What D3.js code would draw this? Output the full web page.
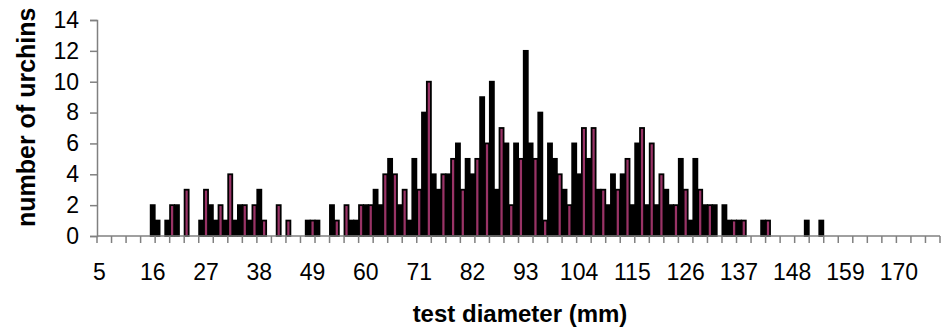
<!DOCTYPE html>
<html>
<head>
<meta charset="utf-8">
<script src="https://cdn.jsdelivr.net/npm/d3@7/dist/d3.min.js"></script>
<style>
  body { margin: 0; background: #fff; }
  svg { display: block; font-family: "Liberation Sans", Arial, sans-serif; }
</style>
</head>
<body>
<div id="chart"></div>
<script>
// test diameter classes (mm)
const diameters = [
  5, 6, 7, 8, 9, 10, 11, 12, 13, 14,
  15, 16, 17, 18, 19, 20, 21, 22, 23, 24,
  25, 26, 27, 28, 29, 30, 31, 32, 33, 34,
  35, 36, 37, 38, 39, 40, 41, 42, 43, 44,
  45, 46, 47, 48, 49, 50, 51, 52, 53, 54,
  55, 56, 57, 58, 59, 60, 61, 62, 63, 64,
  65, 66, 67, 68, 69, 70, 71, 72, 73, 74,
  75, 76, 77, 78, 79, 80, 81, 82, 83, 84,
  85, 86, 87, 88, 89, 90, 91, 92, 93, 94,
  95, 96, 97, 98, 99, 100, 101, 102, 103, 104,
  105, 106, 107, 108, 109, 110, 111, 112, 113, 114,
  115, 116, 117, 118, 119, 120, 121, 122, 123, 124,
  125, 126, 127, 128, 129, 130, 131, 132, 133, 134,
  135, 136, 137, 138, 139, 140, 141, 142, 143, 144,
  145, 146, 147, 148, 149, 150, 151, 152, 153, 154,
  155, 156, 157, 158, 159, 160, 161, 162, 163, 164,
  165, 166, 167, 168, 169, 170, 171, 172, 173, 174,
  175, 176, 177, 178
];

// black series
const blackCounts = [
  0, 0, 0, 0, 0, 0, 0, 0, 0, 0,
  0, 2, 1, 0, 1, 0, 2, 0, 0, 0,
  0, 1, 0, 2, 1, 0, 1, 0, 1, 2,
  0, 1, 0, 3, 0, 0, 0, 0, 0, 0,
  0, 0, 0, 1, 0, 1, 0, 0, 2, 0,
  0, 0, 1, 1, 0, 2, 0, 3, 2, 0,
  5, 0, 2, 0, 1, 5, 0, 8, 0, 4,
  3, 0, 4, 0, 6, 0, 5, 4, 0, 9,
  0, 10, 3, 0, 6, 0, 6, 0, 12, 6,
  0, 8, 0, 6, 5, 0, 3, 0, 6, 4,
  0, 5, 0, 3, 0, 2, 4, 0, 4, 0,
  2, 6, 0, 2, 0, 2, 0, 3, 2, 0,
  5, 0, 1, 5, 0, 2, 0, 2, 0, 2,
  1, 0, 1, 0, 0, 0, 0, 1, 0, 0,
  0, 0, 0, 0, 0, 0, 1, 0, 0, 1,
  0, 0, 0, 0, 0, 0, 0, 0, 0, 0,
  0, 0, 0, 0, 0, 0, 0, 0, 0, 0,
  0, 0, 0, 0
];

// plum series
const plumCounts = [
  0, 0, 0, 0, 0, 0, 0, 0, 0, 0,
  0, 0, 0, 0, 0, 2, 0, 0, 3, 0,
  0, 0, 3, 0, 0, 2, 0, 4, 0, 0,
  2, 0, 2, 0, 1, 0, 0, 2, 0, 1,
  0, 0, 0, 0, 1, 0, 0, 0, 0, 1,
  0, 2, 0, 0, 2, 0, 2, 0, 0, 4,
  0, 4, 0, 3, 0, 0, 3, 0, 10, 0,
  0, 4, 0, 5, 0, 3, 0, 0, 5, 0,
  6, 0, 0, 7, 0, 2, 0, 5, 0, 0,
  5, 0, 1, 0, 0, 4, 0, 2, 0, 0,
  7, 0, 7, 0, 3, 0, 0, 3, 0, 5,
  0, 0, 7, 0, 6, 0, 4, 0, 0, 2,
  0, 3, 0, 0, 3, 0, 2, 0, 0, 0,
  0, 1, 0, 1, 0, 0, 0, 0, 1, 0,
  0, 0, 0, 0, 0, 0, 0, 0, 0, 0,
  0, 0, 0, 0, 0, 0, 0, 0, 0, 0,
  0, 0, 0, 0, 0, 0, 0, 0, 0, 0,
  0, 0, 0, 0
];

const xTickLabels = [5, 16, 27, 38, 49, 60, 71, 82, 93, 104, 115, 126, 137, 148, 159, 170];
const yTicks = [0, 2, 4, 6, 8, 10, 12, 14];

const width = 941, height = 335;
const margin = { top: 20, right: 1, bottom: 99, left: 97 };

const svg = d3.select('#chart').append('svg')
  .attr('width', width)
  .attr('height', height);

const x = d3.scaleBand()
  .domain(diameters)
  .range([margin.left, width - margin.right])
  .padding(0);

const y = d3.scaleLinear()
  .domain([0, 14])
  .range([height - margin.bottom, margin.top]);

const bw = x.bandwidth();

// bars: black first, plum on top
const drawSeries = (counts, fill) => {
  svg.append('g')
    .selectAll('rect')
    .data(diameters.map((d, i) => ({ d, v: counts[i] })).filter(e => e.v > 0))
    .join('rect')
    .attr('x', e => x(e.d) + 0.4)
    .attr('width', bw - 0.8)
    .attr('y', e => y(e.v))
    .attr('height', e => y(0) - y(e.v))
    .attr('fill', fill)
    .attr('stroke', '#000')
    .attr('stroke-width', 1.8);
};
drawSeries(blackCounts, '#000');
drawSeries(plumCounts, '#993366');

const axisColor = '#808080';

// y axis
const yAxis = svg.append('g')
  .attr('transform', `translate(${margin.left},0)`)
  .call(d3.axisLeft(y).tickValues(yTicks).tickSize(7).tickPadding(11));
yAxis.select('.domain').attr('stroke', axisColor).attr('stroke-width', 1.5);
yAxis.selectAll('.tick line').attr('stroke', axisColor).attr('stroke-width', 1.5);
yAxis.selectAll('.tick text')
  .attr('fill', '#000')
  .style('font-size', '23px');

// x axis: tick marks every 3 classes, labels every 11
const tickPos = diameters.filter((d, i) => i % 3 === 0).map(d => x(d));
tickPos.push(x.range()[1]);

const base = y(0);
svg.append('line')
  .attr('x1', margin.left).attr('x2', width - margin.right)
  .attr('y1', base).attr('y2', base)
  .attr('stroke', axisColor).attr('stroke-width', 1.5);

svg.append('g')
  .selectAll('line')
  .data(tickPos)
  .join('line')
  .attr('x1', d => d).attr('x2', d => d)
  .attr('y1', base).attr('y2', base + 7)
  .attr('stroke', axisColor).attr('stroke-width', 1.5);

svg.append('g')
  .selectAll('text')
  .data(xTickLabels)
  .join('text')
  .attr('x', d => x(d) + bw / 2)
  .attr('y', 280)
  .attr('text-anchor', 'middle')
  .style('font-size', '23px')
  .text(d => d);

// axis titles
svg.append('text')
  .attr('x', 520)
  .attr('y', 322)
  .attr('text-anchor', 'middle')
  .style('font-size', '24px')
  .style('font-weight', 'bold')
  .text('test diameter (mm)');

svg.append('text')
  .attr('transform', 'translate(35,227) rotate(-90)')
  .attr('text-anchor', 'start')
  .style('font-size', '25px')
  .style('font-weight', 'bold')
  .text('number of urchins');
</script>
</body>
</html>
